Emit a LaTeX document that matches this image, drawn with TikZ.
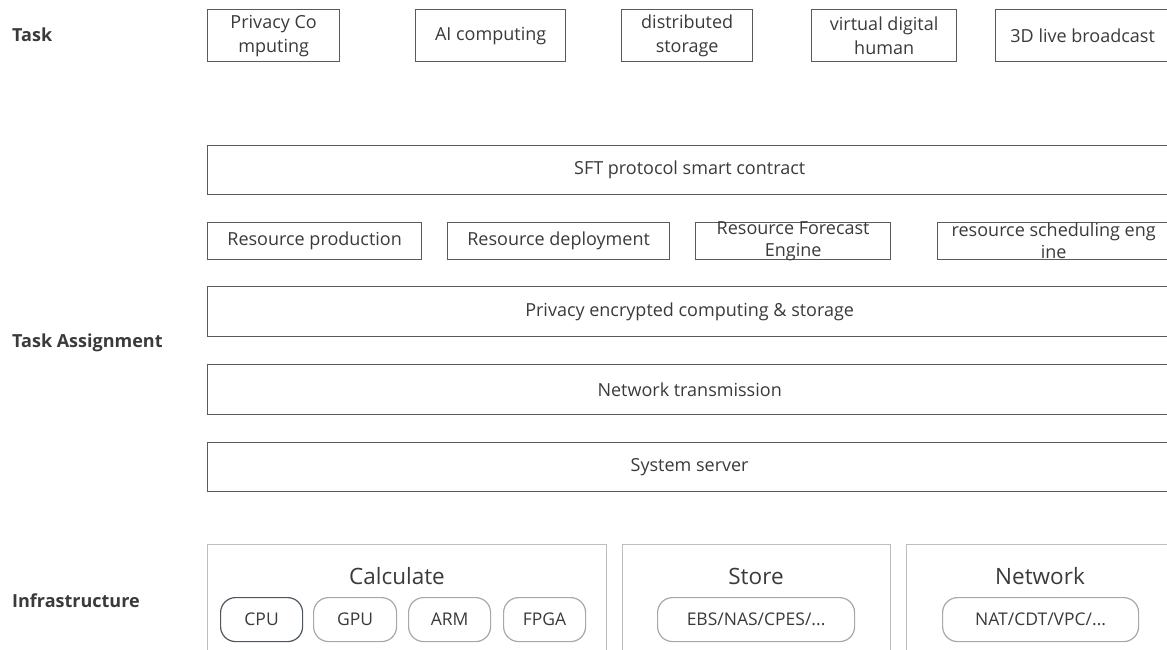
\documentclass[tikz,border=0pt]{standalone}
\usepackage{fontspec}
\setmainfont{Open Sans}
\definecolor{txt}{HTML}{3A3A3A}
\definecolor{edge}{HTML}{5A5A5A}
\definecolor{soft}{HTML}{BDBDBD}
\definecolor{pill}{HTML}{A8A8A8}
\definecolor{pilldark}{HTML}{4E5660}
\tikzset{
  box/.style={draw=edge, line width=1.3pt, anchor=north west, inner sep=0pt,
    align=center, text=txt, font=\fontsize{18}{24}\selectfont},
  group/.style={draw=soft, line width=1.3pt, anchor=north west, inner sep=0pt},
  grouptitle/.style={text=txt, font=\fontsize{22.5}{26}\selectfont, inner sep=0pt},
  chip/.style={draw=pill, line width=1.2pt, rounded corners=15pt, anchor=north west,
    inner sep=0pt, minimum height=44pt, text=txt, font=\fontsize{17.5}{20}\selectfont},
  layer/.style={text=txt, font=\bfseries\fontsize{18}{22}\selectfont, anchor=west, inner sep=0pt}
}
\begin{document}
\begin{tikzpicture}[x=1pt,y=-1pt]
\useasboundingbox (0,0) rectangle (1167,650);
\clip (0,0) rectangle (1167,650);

% layer names
\node[layer] (lTask) at (12,35) {Task};
\node[layer] (lAssign) at (12,343) {Task Assignment};
\node[layer] (lInfra) at (12,601) {Infrastructure};

% task row
\node[box, minimum width=132pt, minimum height=52pt] (tPriv) at (207,9) {Privacy Co\\mputing};
\node[box, minimum width=150pt, minimum height=52pt] (tAI) at (415,9) {AI computing};
\node[box, minimum width=131pt, minimum height=52pt] (tDist) at (621,9) {distributed\\storage};
\node[box, minimum width=145pt, minimum height=52pt] (tHuman) at (811,9) {virtual digital\\human};
\node[box, minimum width=180pt, minimum height=52pt] (tLive) at (995,9) {\hspace*{-6pt}3D live broadcast};

% assignment layers
\node[box, minimum width=964pt, minimum height=49pt] (sft) at (207,145) {SFT protocol smart contract};
\node[box, minimum width=214pt, minimum height=37pt] (rProd) at (207,222) {Resource production};
\node[box, minimum width=222pt, minimum height=37pt] (rDep) at (447,222) {Resource deployment};
\node[box, minimum width=195pt, minimum height=37pt,
  label={[text=txt, font=\fontsize{18}{22}\selectfont, align=center, inner sep=0pt]center:Resource Forecast\\Engine}] (rFore) at (695,222) {};
\node[box, minimum width=240pt, minimum height=37pt,
  label={[text=txt, font=\fontsize{18}{22}\selectfont, align=center, inner sep=0pt, xshift=-4pt]center:resource scheduling eng\\ine}] (rSched) at (937,222) {};
\node[box, minimum width=964pt, minimum height=50pt] (priv) at (207,286) {Privacy encrypted computing \& storage};
\node[box, minimum width=964pt, minimum height=50pt] (net) at (207,364) {Network transmission};
\node[box, minimum width=964pt, minimum height=49pt] (srv) at (207,442) {System server};

% infrastructure groups
\node[group, minimum width=399pt, minimum height=120pt] (gCalc) at (207,544) {};
\node[group, minimum width=268pt, minimum height=120pt] (gStore) at (622,544) {};
\node[group, minimum width=270pt, minimum height=120pt] (gNet) at (906,544) {};
\node[grouptitle] (cCalc) at (397,576) {Calculate};
\node[grouptitle] (cStore) at (756,576) {Store};
\node[grouptitle] (cNet) at (1040,576) {Network};

\node[chip, draw=pilldark, minimum width=82pt] (cpu) at (220,597) {CPU};
\node[chip, minimum width=83pt] (gpu) at (313,597) {GPU};
\node[chip, minimum width=82pt] (arm) at (408,597) {ARM};
\node[chip, minimum width=82pt] (fpga) at (503,597) {FPGA};
\node[chip, minimum width=197pt] (ebs) at (657,597) {EBS/NAS/CPES/...};
\node[chip, minimum width=196pt] (nat) at (942,597) {NAT/CDT/VPC/...};
\end{tikzpicture}
\end{document}
